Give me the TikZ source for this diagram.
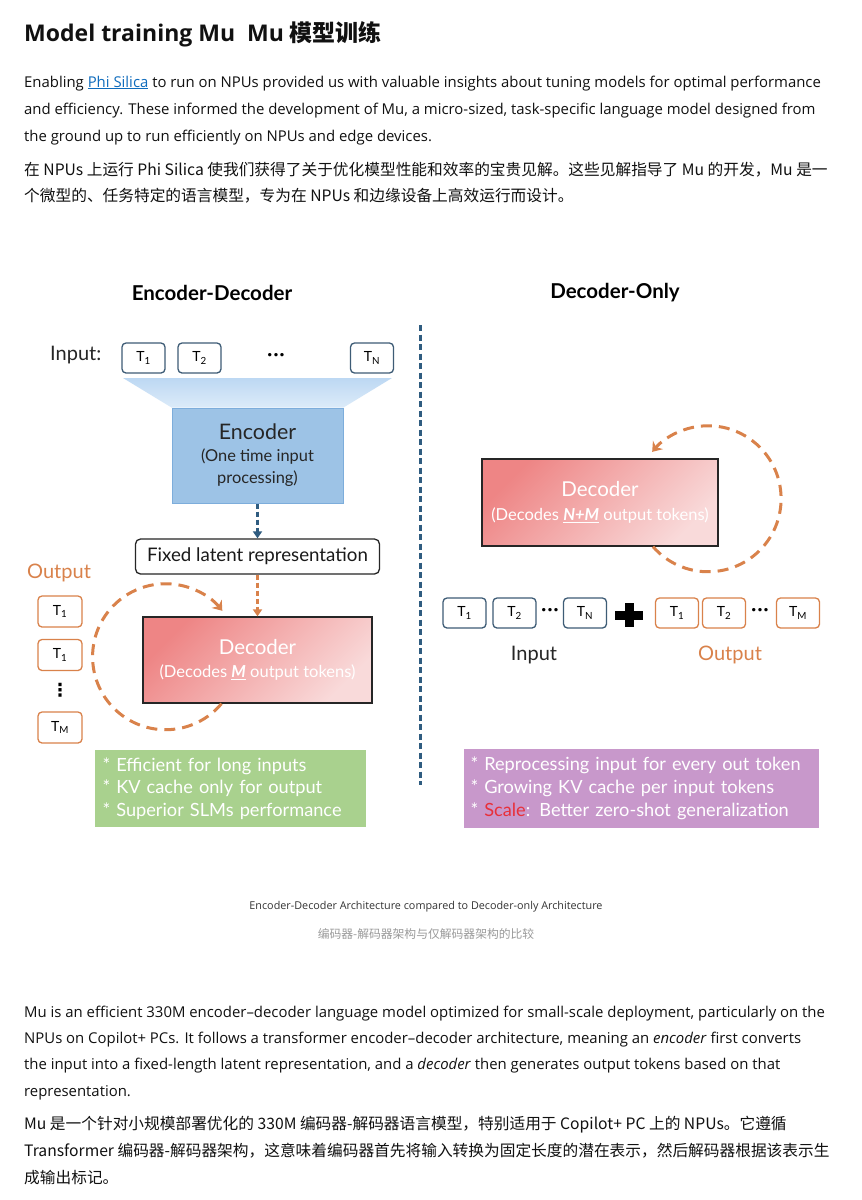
\documentclass[tikz,border=0pt]{standalone}
\usepackage{fontspec}
\usepackage{xcolor}
\usepackage{tikz}
\usetikzlibrary{arrows.meta,positioning,shapes,calc}
\setmainfont{Open Sans}
\newfontfamily\cjk{Noto Sans CJK SC}
\newfontfamily\dfont{Lato}
\newfontfamily\symf{DejaVu Sans}

\definecolor{linkblue}{HTML}{0F6CBD}
\definecolor{bodytext}{HTML}{111111}
\definecolor{tokblue}{HTML}{3E5C76}
\definecolor{divblue}{HTML}{2F5C80}
\definecolor{orangeT}{HTML}{D9824B}
\definecolor{encfill}{HTML}{9DC3E6}
\definecolor{encedge}{HTML}{7DADDB}
\definecolor{funtop}{HTML}{BDD8F3}
\definecolor{funbot}{HTML}{DCEBF9}
\definecolor{decA}{HTML}{EE8585}
\definecolor{decB}{HTML}{F9DADA}
\definecolor{greenbox}{HTML}{A9D18E}
\definecolor{purplebox}{HTML}{C898CB}
\definecolor{scalered}{HTML}{E8303A}
\definecolor{captext}{HTML}{333333}
\definecolor{capgray}{HTML}{9A9A9A}

\newcommand{\fs}[2]{\fontsize{#1}{#2}\selectfont}
\newcommand{\tk}[1]{T\textsubscript{#1}}
\newcommand{\tdots}{·\kern1.2pt·\kern1.2pt·}

\begin{document}
\begin{tikzpicture}[x=1pt, y=-1pt,
para/.style={anchor=base west, inner sep=0pt, font=\fs{14.9}{17}, text=bodytext},
cpara/.style={anchor=base west, inner sep=0pt, font=\cjk\fs{15.7}{19}, text=bodytext},
head/.style={inner sep=0pt, font=\dfont\bfseries\fs{20.5}{24}},
tok/.style={rectangle, rounded corners=4pt, draw=tokblue, line width=1.3pt, minimum width=43pt, minimum height=30pt, inner sep=0pt, font=\dfont\fs{14}{16}},
otok/.style={tok, draw=orangeT},
dotsnode/.style={inner sep=0pt, font=\dfont\bfseries\fs{18}{18}},
lbl/.style={inner sep=0pt, font=\dfont\fs{20}{24}},
decbox/.style={rectangle, draw=black!85, line width=1.3pt, inner sep=0pt, align=center, text=white, font=\dfont\fs{16.5}{23},
  shading=axis, top color=decA, bottom color=decB, shading angle=45},
notebox/.style={rectangle, inner sep=0pt, text=white, align=left, font=\dfont\fs{18.2}{22.8}},
encarrow/.style={divblue, line width=2.6pt, dash pattern=on 5pt off 3pt, -{Triangle[length=7pt, width=9pt]}},
oarrow/.style={orangeT, line width=2.6pt, dash pattern=on 5pt off 3pt, -{Triangle[length=7pt, width=9pt]}},
cycarrow/.style={orangeT, line width=3pt, dash pattern=on 11pt off 7pt, -{Stealth[length=9pt, width=13pt, inset=3pt]}}
]
\useasboundingbox[fill=white] (0,0) rectangle (862,1200);

% Title and opening text
\node[anchor=base west, inner sep=0pt, font=\bfseries\fs{23}{26}, text=bodytext] (title) at (24,41) {Model training Mu\ \ Mu {\cjk\bfseries 模型训练}};
\node[para] (p1a) at (24,87) {Enabling \textcolor{linkblue}{\underline{Phi Silica}} to run on NPUs provided us with valuable insights about tuning models for optimal performance};
\node[para] (p1b) at (24,114) {and efficiency. These informed the development of Mu, a micro-sized, task-specific language model designed from};
\node[para] (p1c) at (24,141) {the ground up to run efficiently on NPUs and edge devices.};
\node[cpara] (c1a) at (24,175) {在 NPUs 上运行 Phi Silica 使我们获得了关于优化模型性能和效率的宝贵见解。这些见解指导了 Mu 的开发，Mu 是一};
\node[cpara] (c1b) at (24,201) {个微型的、任务特定的语言模型，专为在 NPUs 和边缘设备上高效运行而设计。};

% Headings and divider
\node[head] (hEnc) at (212,293) {Encoder-Decoder};
\node[head] (hDec) at (615,293) {Decoder-Only};
\draw[divblue, line width=3pt, dash pattern=on 6pt off 3.5pt] (420,325) -- (420,785);

% Encoder-Decoder: input tokens
\node[lbl, anchor=west, text=black!85] (inLbl) at (50,355) {Input:};
\node[tok] (tin1) at (143.5,358) {\tk{1}};
\node[tok] (tin2) at (199.5,358) {\tk{2}};
\node[dotsnode] (tdots) at (276,357) {\tdots};
\node[tok] (tinN) at (372,358) {\tk{N}};

% Encoder with funnel
\node[rectangle, draw=encedge, line width=1pt, fill=encfill, minimum width=171pt, minimum height=95pt, inner sep=0pt,
  align=center, font=\dfont\fs{16.4}{22}, text=black!85] (enc) at (257.5,455.5) {{\fs{21.4}{22}Encoder}\\(One time input\\processing)};
\shade[top color=funtop, bottom color=funbot] (123,378) -- (392,378) -- (enc.north east) -- (enc.north west) -- cycle;

% Latent representation
\node[rectangle, rounded corners=5pt, draw=black!85, line width=1.3pt, minimum width=244pt, minimum height=35pt, inner sep=0pt,
  font=\dfont\fs{18.7}{20}, text=black!90] (lat) at (257.5,556.5) {Fixed latent representation};
\draw[encarrow] (enc.south) -- (lat.north);

% Decoder (left)
\node[decbox, minimum width=229pt, minimum height=86pt] (decL) at (257.5,660) {{\fs{20.5}{23}Decoder}\\(Decodes \underline{\textbf{\textit{M}}} output tokens)};
\draw[oarrow] (lat.south) -- (decL.north);
\draw[cycarrow] ([xshift=-36pt]decL.south) arc[start angle=40, end angle=321, radius=73];

% Output tokens column
\node[lbl, anchor=west, text=orangeT] (outLbl) at (27,573) {Output};
\node[otok, minimum width=44pt, minimum height=31pt] (tout1) at (60,611.5) {\tk{1}};
\node[otok, minimum width=44pt, minimum height=31pt] (tout2) at (60,655) {\tk{1}};
\node[inner sep=0pt, font=\symf\bfseries\fs{18}{18}] (tvdots) at (60,690) {⋮};
\node[otok, minimum width=44pt, minimum height=31pt] (toutM) at (60,727.5) {\tk{M}};

% Notes (left)
\node[notebox, fill=greenbox, minimum width=271pt, minimum height=77pt, text width=256pt] (noteL) at (230.5,788.5)
  {* Efficient for long inputs\\{*} KV cache only for output\\{*} Superior SLMs performance};

% Decoder-Only
\node[decbox, minimum width=236pt, minimum height=87pt, font=\dfont\fs{16.5}{24.5}] (decR) at (600,502.5) {{\fs{20.5}{23}Decoder}\\(Decodes \underline{\textbf{\textit{N+M}}} output tokens)};
\draw[cycarrow] ([xshift=53pt]decR.south) arc[start angle=139, end angle=-140, radius=73];

% Token sequence
\node[tok] (rin1) at (464.5,613) {\tk{1}};
\node[tok] (rin2) at (514.5,613) {\tk{2}};
\node[dotsnode] (rdots1) at (550,612) {\tdots};
\node[tok] (rinN) at (585,613) {\tk{N}};
\coordinate (plus) at (629,615);
\fill[black] (plus) +(-14,-4.5) rectangle +(14,4.5);
\fill[black] (plus) +(-4.5,-12) rectangle +(4.5,12);
\node[otok] (rout1) at (677,613) {\tk{1}};
\node[otok] (rout2) at (724,613) {\tk{2}};
\node[dotsnode] (rdots2) at (760,612) {\tdots};
\node[otok] (routM) at (798,613) {\tk{M}};
\node[lbl, text=black!85] (rinLbl) at (534,655) {Input};
\node[lbl, text=orangeT] (routLbl) at (730,655) {Output};

% Notes (right)
\node[notebox, fill=purplebox, minimum width=355pt, minimum height=79pt, text width=342pt] (noteR) at (641.5,788.5)
  {* Reprocessing input for every out token\\{*} Growing KV cache per input tokens\\{*} \textcolor{scalered}{Scale}: Better zero-shot generalization};

% Caption
\node[inner sep=0pt, font=\fs{10.8}{12}, text=captext] (cap) at (426,907) {Encoder-Decoder Architecture compared to Decoder-only Architecture};
\node[inner sep=0pt, font=\cjk\fs{11.8}{13}, text=capgray] (capc) at (426,934) {编码器-解码器架构与仅解码器架构的比较};

% Closing text
\node[para] (p2a) at (24,1017) {Mu is an efficient 330M encoder–decoder language model optimized for small-scale deployment, particularly on the};
\node[para] (p2b) at (24,1043) {NPUs on Copilot+ PCs. It follows a transformer encoder–decoder architecture, meaning an \textit{encoder} first converts};
\node[para] (p2c) at (24,1069) {the input into a fixed-length latent representation, and a \textit{decoder} then generates output tokens based on that};
\node[para] (p2d) at (24,1096) {representation.};
\node[cpara] (c2a) at (24,1129) {Mu 是一个针对小规模部署优化的 330M 编码器-解码器语言模型，特别适用于 Copilot+ PC 上的 NPUs。它遵循};
\node[cpara] (c2b) at (24,1156) {Transformer 编码器-解码器架构，这意味着编码器首先将输入转换为固定长度的潜在表示，然后解码器根据该表示生};
\node[cpara] (c2c) at (24,1183) {成输出标记。};
\end{tikzpicture}
\end{document}
